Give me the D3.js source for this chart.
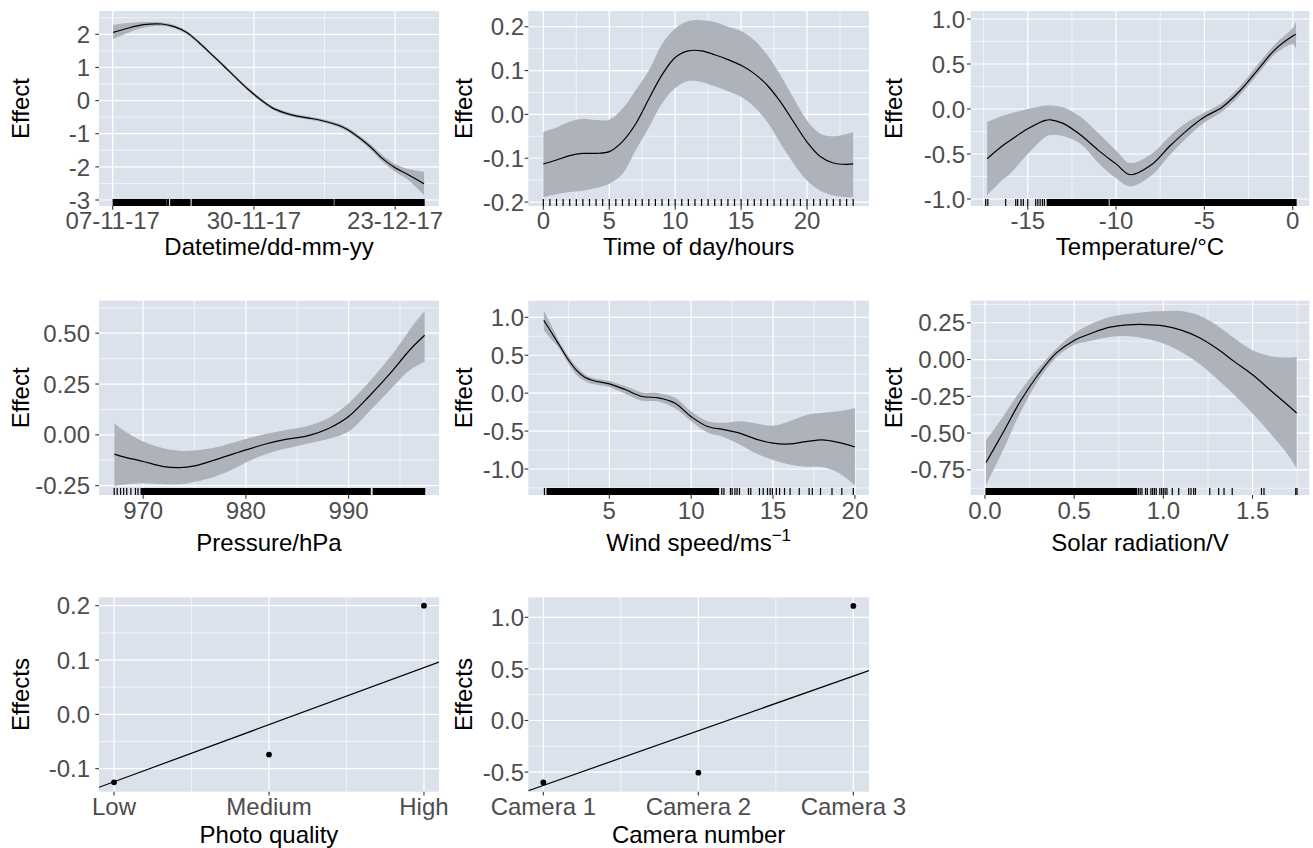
<!DOCTYPE html>
<html><head><meta charset="utf-8">
<script src="https://cdn.jsdelivr.net/npm/d3@7"></script>
<style>
body{margin:0;background:#fff}
svg{display:block}
text{font-family:"Liberation Sans",Arial,Helvetica,sans-serif}
</style>
</head><body>
<svg id="chart" width="1313" height="848"></svg>
<script>
// ================= DATA =================
// Panel 1: Datetime
const dtDates = ["2017-11-07T02:00","2017-11-09T00:00","2017-11-12T00:00","2017-11-15T00:00","2017-11-17T00:00","2017-11-19T00:00","2017-11-21T00:00","2017-11-23T00:00","2017-11-25T00:00","2017-11-27T00:00","2017-11-29T00:00","2017-12-01T00:00","2017-12-03T00:00","2017-12-05T00:00","2017-12-07T00:00","2017-12-09T00:00","2017-12-11T00:00","2017-12-13T00:00","2017-12-15T00:00","2017-12-17T00:00","2017-12-19T00:00","2017-12-21T00:00","2017-12-23T00:00","2017-12-25T00:00","2017-12-27T17:00"];
const dtFit   = [2.06,2.16,2.29,2.31,2.23,2.06,1.76,1.41,1.06,0.70,0.35,0.04,-0.22,-0.37,-0.47,-0.53,-0.60,-0.70,-0.85,-1.10,-1.40,-1.76,-2.03,-2.22,-2.51];
const dtUpper = [2.28,2.33,2.37,2.36,2.28,2.11,1.81,1.46,1.11,0.75,0.40,0.09,-0.17,-0.32,-0.42,-0.48,-0.55,-0.65,-0.79,-1.03,-1.32,-1.66,-1.91,-2.06,-2.15];
const dtLower = [1.86,2.01,2.20,2.25,2.18,2.01,1.71,1.36,1.01,0.65,0.30,-0.01,-0.27,-0.42,-0.52,-0.58,-0.65,-0.75,-0.91,-1.17,-1.48,-1.86,-2.15,-2.38,-2.85];
const dtRugSpans = [["2017-11-07T02:00","2017-11-15T16:30"],["2017-11-16T11:00","2017-11-19T14:00"],["2017-11-19T23:00","2017-12-12T22:00"],["2017-12-13T05:00","2017-12-27T17:00"]];
const dtRugTicks = ["2017-11-15T22:00","2017-11-16T02:00"];
const dtXTicks = ["2017-11-07T00:00","2017-11-30T00:00","2017-12-23T00:00"];
const dtYTicks = [-3,-2,-1,0,1,2];

// Panel 2: Time of day
const todX     = [0,1,2,3,4,5,6,7,8,9,10,11,12,13,14,15,16,17,18,19,20,21,22,23,23.5];
const todFit   = [-0.113,-0.104,-0.094,-0.089,-0.089,-0.085,-0.062,-0.022,0.035,0.090,0.130,0.145,0.145,0.136,0.125,0.112,0.093,0.066,0.028,-0.018,-0.063,-0.096,-0.111,-0.114,-0.113];
const todUpper = [-0.040,-0.030,-0.017,-0.010,-0.013,-0.012,0.013,0.055,0.100,0.160,0.196,0.213,0.215,0.211,0.200,0.190,0.169,0.135,0.089,0.036,-0.014,-0.044,-0.050,-0.045,-0.040];
const todLower = [-0.189,-0.182,-0.177,-0.174,-0.168,-0.158,-0.136,-0.082,-0.030,0.025,0.060,0.076,0.074,0.064,0.053,0.040,0.017,-0.018,-0.067,-0.113,-0.151,-0.174,-0.185,-0.189,-0.189];
const todRugTicks = [0,0.5,1,1.5,2,2.5,3,3.5,4,4.5,5,5.5,6,6.5,7,7.5,8,8.5,9,9.5,10,10.5,11,11.5,12,12.5,13,13.5,14,14.5,15,15.5,16,16.5,17,17.5,18,18.5,19,19.5,20,20.5,21,21.5,22,22.5,23,23.5];
const todXTicks = [0,5,10,15,20];
const todYTicks = [-0.2,-0.1,0,0.1,0.2];

// Panel 3: Temperature
const tmpX     = [-17.3,-16.5,-16,-15,-14,-13.7,-13,-12,-11,-10,-9.2,-8,-7,-6,-5,-4,-3,-2,-1,0,0.19];
const tmpFit   = [-0.553,-0.42,-0.35,-0.22,-0.126,-0.12,-0.16,-0.29,-0.46,-0.61,-0.73,-0.62,-0.42,-0.24,-0.09,0.02,0.20,0.43,0.66,0.81,0.83];
const tmpUpper = [-0.145,-0.08,-0.05,0.0,0.04,0.04,0.02,-0.09,-0.27,-0.46,-0.60,-0.50,-0.31,-0.15,-0.04,0.07,0.25,0.49,0.72,0.90,0.97];
const tmpLower = [-0.96,-0.80,-0.72,-0.50,-0.31,-0.29,-0.30,-0.39,-0.60,-0.77,-0.86,-0.74,-0.52,-0.32,-0.15,-0.03,0.15,0.38,0.61,0.72,0.67];
const tmpRugSpans = [[-13.9,-10.45],[-10.33,0.19]];
const tmpRugTicks = [-17.38,-17.26,-16.25,-15.68,-15.57,-15.38,-15.25,-15.0,-14.55,-14.43,-14.3,-14.17,-14.06];
const tmpXTicks = [-15,-10,-5,0];
const tmpYTicks = [-1,-0.5,0,0.5,1];

// Panel 4: Pressure
const prsX     = [967.2,968,970,972,973.5,975,977,979,980,982,984,986,988,990,992,994,996,997.4];
const prsFit   = [-0.095,-0.107,-0.131,-0.156,-0.161,-0.153,-0.123,-0.090,-0.074,-0.044,-0.021,-0.005,0.030,0.090,0.190,0.300,0.420,0.490];
const prsUpper = [0.057,0.025,-0.033,-0.066,-0.078,-0.077,-0.062,-0.035,-0.020,0.005,0.025,0.044,0.082,0.156,0.260,0.380,0.520,0.610];
const prsLower = [-0.250,-0.245,-0.238,-0.243,-0.243,-0.232,-0.205,-0.163,-0.136,-0.094,-0.066,-0.044,-0.021,0.016,0.115,0.220,0.320,0.360];
const prsRugSpans = [[969.8,992.1],[992.4,997.4]];
const prsRugTicks = [967.18,967.47,967.8,968.1,968.4,968.8,969.25,969.5];
const prsXTicks = [970,980,990];
const prsYTicks = [-0.25,0,0.25,0.5];

// Panel 5: Wind speed
const wndX     = [1,1.5,2,2.5,3,3.5,4,5,6,7,8,9,10,11,12,13,14,15,16,17,18,19,20];
const wndFit   = [0.96,0.79,0.615,0.44,0.30,0.21,0.167,0.123,0.044,-0.044,-0.062,-0.13,-0.31,-0.44,-0.48,-0.53,-0.61,-0.66,-0.67,-0.64,-0.615,-0.65,-0.71];
const wndUpper = [1.09,0.88,0.66,0.49,0.35,0.25,0.20,0.16,0.09,0.01,0.00,-0.057,-0.24,-0.37,-0.39,-0.37,-0.40,-0.43,-0.37,-0.29,-0.26,-0.24,-0.20];
const wndLower = [0.83,0.70,0.57,0.39,0.24,0.16,0.12,0.08,-0.01,-0.10,-0.11,-0.20,-0.37,-0.52,-0.58,-0.68,-0.80,-0.88,-0.94,-0.97,-0.975,-1.05,-1.22];
const wndRugSpans = [[1.2,11.67]];
const wndRugTicks = [1.04,11.87,12.0,12.4,12.5,12.67,12.8,12.95,13.5,13.64,14.17,14.4,14.66,14.82,14.96,15.2,15.4,15.7,16.04,16.6,17.2,17.4,17.9,18.6,19.2,19.9];
const wndXTicks = [5,10,15,20];
const wndYTicks = [-1,-0.5,0,0.5,1];

// Panel 6: Solar radiation
const solX     = [0.006,0.1,0.2,0.3,0.4,0.5,0.6,0.7,0.8,0.9,1.0,1.1,1.2,1.3,1.4,1.5,1.6,1.7,1.747];
const solFit   = [-0.70,-0.50,-0.28,-0.10,0.045,0.13,0.18,0.22,0.236,0.238,0.229,0.20,0.15,0.075,-0.016,-0.104,-0.209,-0.313,-0.363];
const solUpper = [-0.55,-0.39,-0.21,-0.06,0.075,0.177,0.245,0.29,0.31,0.324,0.33,0.33,0.30,0.233,0.143,0.063,0.023,0.014,0.018];
const solLower = [-0.855,-0.62,-0.356,-0.14,0.014,0.10,0.13,0.154,0.159,0.143,0.109,0.052,-0.027,-0.13,-0.243,-0.367,-0.503,-0.65,-0.74];
const solRugSpans = [[0.006,0.85]];
const solRugTicks = [0.86,0.87,0.88,0.90,0.91,0.93,0.94,0.95,0.96,0.98,0.99,1.0,1.01,1.02,1.05,1.086,1.142,1.155,1.17,1.18,1.26,1.31,1.34,1.386,1.55,1.564,1.742,1.749];
const solXTicks = [0,0.5,1,1.5];
const solYTicks = [-0.75,-0.5,-0.25,0,0.25];

// Panel 7: Photo quality
const pqCategories = ["Low","Medium","High"];
const pqEffects = [-0.125,-0.074,0.200];
const pqLineAtEnds = [-0.124,0.086];   // fitted line at first and last category
const pqYTicks = [-0.1,0,0.1,0.2];

// Panel 8: Camera number
const camCategories = ["Camera 1","Camera 2","Camera 3"];
const camEffects = [-0.600,-0.506,1.110];
const camLineAtEnds = [-0.629,0.431];
const camYTicks = [-0.5,0,0.5,1];

// ================= LAYOUT / STYLE =================
const cols = [
  {x0:99,   x1:439,    lab:90,  ttl:28.5},
  {x0:528.3,x1:869,    lab:524, ttl:472},
  {x0:970.7,x1:1309.3, lab:965, ttl:902}
];
const rows = [
  {y0:11,    y1:206,   tick:229.2, ttl:255},
  {y0:300.7, y1:495,   tick:518.5, ttl:550.5},
  {y0:597.3, y1:791.7, tick:814.5, ttl:842.5}
];
const C = {bg:"#DCE2EC", band:"#AEB2BA", grid:"#FFFFFF", tick:"#333333", tickText:"#4D4D4D", title:"#000000"};
const FS = 24;

const loc = d3.formatLocale({decimal:".",thousands:",",grouping:[3],currency:["",""],minus:"-"});
const parseT = d3.utcParse("%Y-%m-%dT%H:%M");
const svg = d3.select("#chart");
const defs = svg.append("defs");

function minors(majors, dom){
  const step = majors[1]-majors[0];
  const out = [];
  const lo = Math.min(dom[0],dom[1]), hi = Math.max(dom[0],dom[1]);
  for (let i=-1;i<majors.length;i++){
    const m = (i<0 ? majors[0]-step : majors[i]) + step/2;
    if (m>lo && m<hi) out.push(m);
  }
  return out;
}

let clipId = 0;
function panel(p){
  const col = cols[p.col], row = rows[p.row];
  const x = p.xScale.range([col.x0, col.x1]);
  const y = d3.scaleLinear().domain(p.yDomain).range([row.y1, row.y0]);
  const g = svg.append("g");
  g.append("rect").attr("x",col.x0).attr("y",row.y0).attr("width",col.x1-col.x0).attr("height",row.y1-row.y0).attr("fill",C.bg);

  // grid
  const yMin = minors(p.yTicks, p.yDomain);
  g.selectAll(null).data(yMin).join("line").attr("x1",col.x0).attr("x2",col.x1).attr("y1",d=>y(d)).attr("y2",d=>y(d)).attr("stroke",C.grid).attr("stroke-width",0.6);
  g.selectAll(null).data(p.xMinor).join("line").attr("y1",row.y0).attr("y2",row.y1).attr("x1",d=>x(d)).attr("x2",d=>x(d)).attr("stroke",C.grid).attr("stroke-width",0.6);
  g.selectAll(null).data(p.yTicks).join("line").attr("x1",col.x0).attr("x2",col.x1).attr("y1",d=>y(d)).attr("y2",d=>y(d)).attr("stroke",C.grid).attr("stroke-width",1.2);
  g.selectAll(null).data(p.xTicks).join("line").attr("y1",row.y0).attr("y2",row.y1).attr("x1",d=>x(d)).attr("x2",d=>x(d)).attr("stroke",C.grid).attr("stroke-width",1.2);

  const id = "clip"+(clipId++);
  defs.append("clipPath").attr("id",id).append("rect").attr("x",col.x0).attr("y",row.y0).attr("width",col.x1-col.x0).attr("height",row.y1-row.y0);
  const gc = g.append("g").attr("clip-path",`url(#${id})`);

  if (p.curve){
    const pts = p.curve.x.map((v,i)=>({x:v, f:p.curve.fit[i], u:p.curve.upper[i], l:p.curve.lower[i]}));
    const cr = d3.curveCatmullRom.alpha(0.5);
    gc.append("path").datum(pts).attr("fill",C.band)
      .attr("d", d3.area().curve(cr).x(d=>x(d.x)).y0(d=>y(d.l)).y1(d=>y(d.u)));
    gc.append("path").datum(pts).attr("fill","none").attr("stroke","#000").attr("stroke-width",1.2)
      .attr("d", d3.line().curve(cr).x(d=>x(d.x)).y(d=>y(d.f)));
  }
  // rug
  const rugH = 7;
  if (p.rugSpans) gc.selectAll(null).data(p.rugSpans).join("rect")
      .attr("x",d=>x(d[0])-0.6).attr("width",d=>x(d[1])-x(d[0])+1.2).attr("y",row.y1-rugH).attr("height",rugH).attr("fill","#000");
  if (p.rugTicks) gc.selectAll(null).data(p.rugTicks).join("line")
      .attr("x1",d=>x(d)).attr("x2",d=>x(d)).attr("y1",row.y1-rugH).attr("y2",row.y1).attr("stroke","#000").attr("stroke-width",1.2);

  if (p.points){
    const d0 = x.domain();
    const [a,b] = p.lineEnds; const slope = (b-a)/2;
    const yl = v => a + slope*(v-1);
    gc.append("line").attr("x1",x(d0[0])).attr("x2",x(d0[1])).attr("y1",y(yl(d0[0]))).attr("y2",y(yl(d0[1])))
      .attr("stroke","#000").attr("stroke-width",1.2);
    gc.selectAll(null).data(p.points).join("circle").attr("cx",(d,i)=>x(i+1)).attr("cy",d=>y(d)).attr("r",2.9).attr("fill","#000");
  }

  // axes ticks
  const tl = 3.7;
  g.selectAll(null).data(p.yTicks).join("line").attr("x1",col.x0-tl).attr("x2",col.x0).attr("y1",d=>y(d)).attr("y2",d=>y(d)).attr("stroke",C.tick).attr("stroke-width",1.1);
  g.selectAll(null).data(p.xTicks).join("line").attr("y1",row.y1).attr("y2",row.y1+tl).attr("x1",d=>x(d)).attr("x2",d=>x(d)).attr("stroke",C.tick).attr("stroke-width",1.1);
  g.selectAll(null).data(p.yTicks).join("text").attr("x",col.lab).attr("y",d=>y(d)).attr("dy","0.36em")
    .attr("text-anchor","end").attr("font-size",FS).attr("fill",C.tickText).text(p.yFmt);
  g.selectAll(null).data(p.xTicks).join("text").attr("x",d=>x(d)).attr("y",row.tick)
    .attr("text-anchor","middle").attr("font-size",FS).attr("fill",C.tickText).text(p.xFmt);

  // titles
  const cx = (col.x0+col.x1)/2, cy = (row.y0+row.y1)/2;
  g.append("text").attr("transform",`translate(${col.ttl},${cy}) rotate(-90)`).attr("text-anchor","middle")
    .attr("font-size",FS).attr("fill",C.title).text(p.yTitle);
  const xt = g.append("text").attr("x",cx).attr("y",row.ttl).attr("text-anchor","middle").attr("font-size",FS).attr("fill",C.title);
  xt.append("tspan").text(p.xTitle);
  if (p.xSup) xt.append("tspan").attr("dy",-10).attr("font-size",17).text(p.xSup);
}

const f0 = loc.format("d"), f1 = loc.format(".1f"), f2 = loc.format(".2f");

// Panel 1
const dtTickDates = dtXTicks.map(parseT);
panel({col:0,row:0,
  xScale: d3.scaleUtc().domain([parseT("2017-11-04T18:30"), parseT("2017-12-30T03:20")]),
  yDomain:[-3.181,2.703], yTicks:dtYTicks, yFmt:f0,
  xTicks:dtTickDates, xMinor:[parseT("2017-11-18T12:00"), parseT("2017-12-11T12:00")],
  xFmt:d3.utcFormat("%d-%m-%y"),
  curve:{x:dtDates.map(parseT), fit:dtFit, upper:dtUpper, lower:dtLower},
  rugSpans:dtRugSpans.map(s=>s.map(parseT)), rugTicks:dtRugTicks.map(parseT),
  yTitle:"Effect", xTitle:"Datetime/dd-mm-yy"});

// Panel 2
panel({col:1,row:0, xScale:d3.scaleLinear().domain([-1.14,24.7]),
  yDomain:[-0.209,0.2359], yTicks:todYTicks, yFmt:f1,
  xTicks:todXTicks, xMinor:minors(todXTicks,[-1.14,24.7]), xFmt:f0,
  curve:{x:todX, fit:todFit, upper:todUpper, lower:todLower},
  rugTicks:todRugTicks, yTitle:"Effect", xTitle:"Time of day/hours"});

// Panel 3
panel({col:2,row:0, xScale:d3.scaleLinear().domain([-18.23,0.94]),
  yDomain:[-1.078,1.089], yTicks:tmpYTicks, yFmt:f1,
  xTicks:tmpXTicks, xMinor:minors(tmpXTicks,[-18.23,0.94]), xFmt:f0,
  curve:{x:tmpX, fit:tmpFit, upper:tmpUpper, lower:tmpLower},
  rugSpans:tmpRugSpans, rugTicks:tmpRugTicks, yTitle:"Effect", xTitle:"Temperature/°C"});

// Panel 4
panel({col:0,row:1, xScale:d3.scaleLinear().domain([965.7,998.8]),
  yDomain:[-0.296,0.66], yTicks:prsYTicks, yFmt:f2,
  xTicks:prsXTicks, xMinor:minors(prsXTicks,[965.7,998.8]), xFmt:f0,
  curve:{x:prsX, fit:prsFit, upper:prsUpper, lower:prsLower},
  rugSpans:prsRugSpans, rugTicks:prsRugTicks, yTitle:"Effect", xTitle:"Pressure/hPa"});

// Panel 5
panel({col:1,row:1, xScale:d3.scaleLinear().domain([0.053,20.86]),
  yDomain:[-1.343,1.219], yTicks:wndYTicks, yFmt:f1,
  xTicks:wndXTicks, xMinor:minors(wndXTicks,[0.053,20.86]), xFmt:f0,
  curve:{x:wndX, fit:wndFit, upper:wndUpper, lower:wndLower},
  rugSpans:wndRugSpans, rugTicks:wndRugTicks, yTitle:"Effect", xTitle:"Wind speed/ms", xSup:"\u22121"});

// Panel 6
panel({col:2,row:1, xScale:d3.scaleLinear().domain([-0.08,1.818]),
  yDomain:[-0.921,0.40], yTicks:solYTicks, yFmt:f2,
  xTicks:solXTicks, xMinor:minors(solXTicks,[-0.08,1.818]), xFmt:f1,
  curve:{x:solX, fit:solFit, upper:solUpper, lower:solLower},
  rugSpans:solRugSpans, rugTicks:solRugTicks, yTitle:"Effect", xTitle:"Solar radiation/V"});

// Panel 7
panel({col:0,row:2, xScale:d3.scaleLinear().domain([0.903,3.097]),
  yDomain:[-0.1423,0.2155], yTicks:pqYTicks, yFmt:f1,
  xTicks:[1,2,3], xMinor:[1.5,2.5], xFmt:(d,i)=>pqCategories[i],
  points:pqEffects, lineEnds:pqLineAtEnds, yTitle:"Effects", xTitle:"Photo quality"});

// Panel 8
panel({col:1,row:2, xScale:d3.scaleLinear().domain([0.903,3.101]),
  yDomain:[-0.69,1.194], yTicks:camYTicks, yFmt:f1,
  xTicks:[1,2,3], xMinor:[1.5,2.5], xFmt:(d,i)=>camCategories[i],
  points:camEffects, lineEnds:camLineAtEnds, yTitle:"Effects", xTitle:"Camera number"});
</script>
</body></html>
